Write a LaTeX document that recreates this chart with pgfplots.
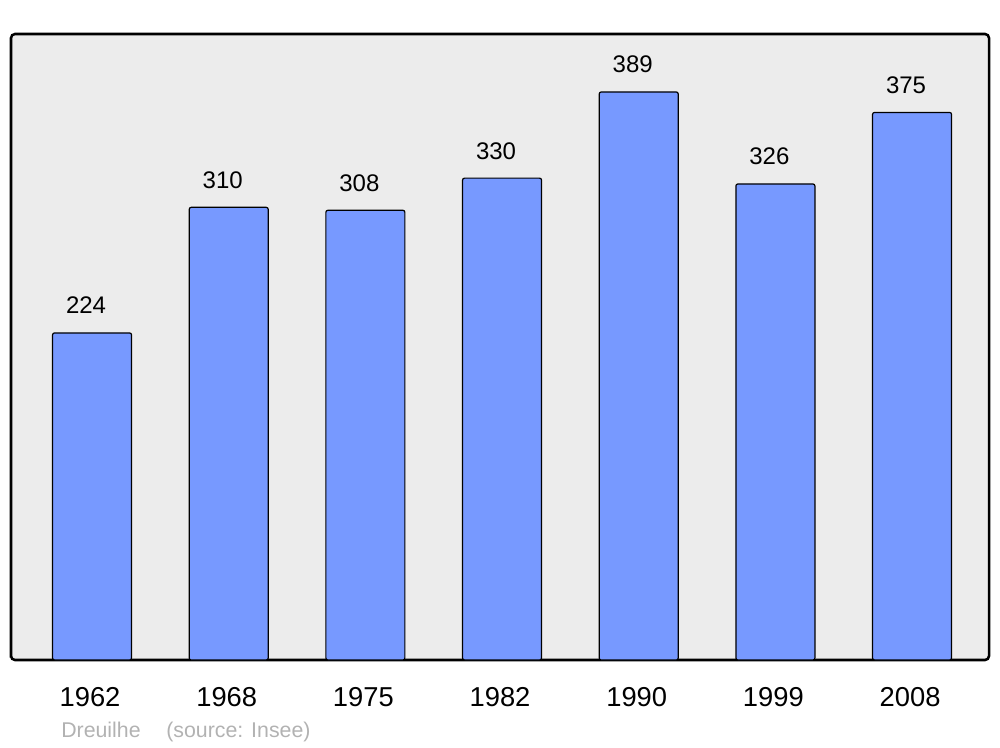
\documentclass[border=0pt]{standalone}
\usepackage{fontspec}
\setmainfont{Liberation Sans}
\usepackage{pgfplots}
\pgfplotsset{compat=1.18}
\definecolor{barblue}{RGB}{119,153,255}
\definecolor{bggrey}{RGB}{236,236,236}
\definecolor{srcgrey}{RGB}{178,178,178}
\begin{document}
\begin{tikzpicture}
\begin{axis}[
  scale only axis,
  width=733.5pt, height=469.5pt,
  xmin=-0.593, xmax=6.563,
  ymin=0, ymax=428.7,
  xtick=data,
  xticklabels={1962,1968,1975,1982,1990,1999,2008},
  ytick=\empty,
  major tick length=0pt,
  xticklabel style={anchor=base, yshift=-34.5pt, xshift=-1.5pt, font=\fontsize{20.5}{24}\selectfont},
  axis line style={line width=1.9pt, rounded corners=3pt},
  axis background/.style={fill=bggrey, rounded corners=3pt},
  /pgf/number format/assume math mode=true,
]
\addplot[ybar, bar width=59.25pt, fill=barblue, draw=black, line width=0.9pt, rounded corners=1.5pt,
  nodes near coords,
  every node near coord/.append style={anchor=base, yshift=14.25pt, xshift=-4.5pt, font=\fontsize{18}{22}\selectfont, text=black}]
  coordinates {(0,224) (1,310) (2,308) (3,330) (4,389) (5,326) (6,375)};
\end{axis}
\node[anchor=base west, text=srcgrey, font=\fontsize{16}{19}\selectfont, inner sep=0pt]
  at ([xshift=37.5pt, yshift=-57.75pt]current axis.south west) {Dreuilhe};
\node[anchor=base west, text=srcgrey, font=\fontsize{16}{19}\selectfont, inner sep=0pt]
  at ([xshift=116.25pt, yshift=-57.75pt]current axis.south west) {(source: Insee)};
\path[use as bounding box] ([xshift=-8.25pt, yshift=-65.25pt]current axis.south west) rectangle ([xshift=8.25pt, yshift=25.5pt]current axis.north east);
\end{tikzpicture}
\end{document}
